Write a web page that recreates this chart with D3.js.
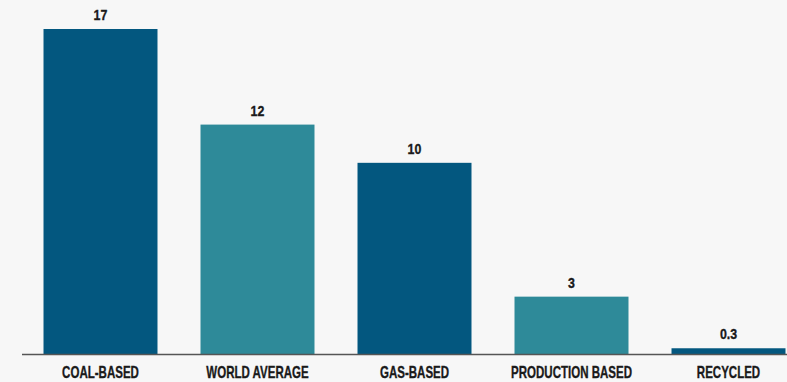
<!DOCTYPE html>
<html><head><meta charset="utf-8">
<script src="https://cdn.jsdelivr.net/npm/d3@7"></script>
<style>
html,body{margin:0;padding:0;background:#f7f7f7;}
svg{display:block;}
</style></head>
<body>
<svg id="chart" width="787" height="382"></svg>
<script>
const categories = ["COAL-BASED", "WORLD AVERAGE", "GAS-BASED", "PRODUCTION BASED", "RECYCLED"];
const values = [17, 12, 10, 3, 0.3];
const valueLabels = ["17", "12", "10", "3", "0.3"];
const colors = ["#03577f", "#2e8a99", "#03577f", "#2e8a99", "#03577f"];

const W = 787, H = 382;
const svg = d3.select("#chart");
svg.append("rect").attr("width", W).attr("height", H).attr("fill", "#f7f7f7");

const x = d3.scaleBand().domain(categories)
  .range([22, 22 + 157 * 5]).paddingInner(0.274).paddingOuter(0.137);
const y = d3.scaleLinear().domain([0, 17]).range([354, 29]);

const font = "'Liberation Sans',Arial,sans-serif";

svg.selectAll("rect.bar").data(categories).enter().append("rect")
  .attr("class", "bar")
  .attr("x", d => x(d))
  .attr("width", x.bandwidth())
  .attr("y", (d, i) => y(values[i]))
  .attr("height", (d, i) => y(0) - y(values[i]))
  .attr("fill", (d, i) => colors[i]);

svg.selectAll("text.val").data(categories).enter().append("text")
  .attr("class", "val")
  .attr("transform", (d, i) => `translate(${x(d) + x.bandwidth() / 2},${y(values[i]) - 9}) scale(0.8,1)`)
  .attr("text-anchor", "middle")
  .attr("font-family", font)
  .attr("font-weight", "bold")
  .attr("font-size", 15.5)
  .attr("fill", "#1a1a1a")
  .attr("stroke", "#1a1a1a")
  .attr("stroke-width", 0.35)
  .text((d, i) => valueLabels[i]);

const axis = d3.axisBottom(x).tickSize(0).tickPadding(0);
const g = svg.append("g").attr("transform", `translate(0,${y(0)})`).call(axis);
g.select(".domain").attr("d", `M22,0.5H787`).attr("stroke", "#555").attr("stroke-width", 1.5);
g.selectAll(".tick text")
  .attr("font-family", font)
  .attr("font-weight", "bold")
  .attr("font-size", 16)
  .attr("fill", "#1a1a1a")
  .attr("stroke", "#1a1a1a")
  .attr("stroke-width", 0.35)
  .attr("y", 0)
  .attr("dy", 0)
  .attr("transform", `translate(0,24) scale(0.72,1)`);
</script>
</body></html>
